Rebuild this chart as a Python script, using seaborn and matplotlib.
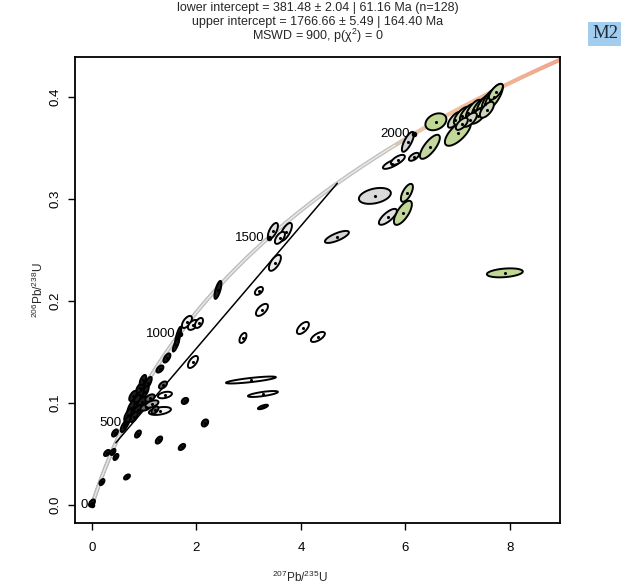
import numpy as np
import pandas as pd
import matplotlib
matplotlib.use("Agg")
import matplotlib.pyplot as plt
import seaborn as sns
from matplotlib.patches import Polygon, Rectangle
from matplotlib.collections import PatchCollection, LineCollection
from matplotlib.colors import LinearSegmentedColormap, to_rgb

sns.set_theme(style="white")
plt.rcParams["font.family"] = ["Liberation Sans", "DejaVu Sans"]
plt.rcParams["mathtext.fontset"] = "custom"
plt.rcParams["mathtext.rm"] = "Liberation Sans"
plt.rcParams["mathtext.it"] = "Liberation Sans:italic"

# decay constants (1/Myr)
LAMBDA_235 = 9.8485e-4
LAMBDA_238 = 1.55125e-4

# analyses: ratios, error half-widths, error correlation, fill level
pb207_u235 = [
    6.584, 7.005, 6.469, 6.163, 6.048, 5.742, 5.856, 5.416, 6.029, 5.952, 5.665, 4.689, 7.904,
    6.947, 7.081, 7.196, 7.311, 7.426, 7.522, 7.617, 7.694, 7.388, 7.234, 7.560, 7.081, 7.732,
    3.464, 3.713, 3.598, 3.502, 2.411, 3.196, 3.254, 4.038, 4.325, 2.890,
    1.818, 1.933, 2.048, 1.646, 1.608, 1.933, 1.435, 1.301, 1.359, 3.043, 3.273, 3.273, 1.397,
    1.301, 1.780, 2.163,
    1.072, 1.014, 0.919, 0.842, 0.957, 1.110, 0.746, 0.880, 1.033, 0.689, 0.804, 0.670, 1.148,
    0.919, 0.976, 0.785, 1.206, 0.612,
    0.880, 1.282, 1.722, 0.440, 0.287, 0.402, 0.459, 0.670, 0.191, 0.000,
]
pb206_u238 = [
    0.3755, 0.3647, 0.3510, 0.3412, 0.3559, 0.3343, 0.3382, 0.3029, 0.3059, 0.2863, 0.2824, 0.2627, 0.2275,
    0.3775, 0.3814, 0.3843, 0.3873, 0.3892, 0.3931, 0.3971, 0.4000, 0.3814, 0.3775, 0.3873, 0.3735, 0.4049,
    0.2686, 0.2676, 0.2618, 0.2373, 0.2108, 0.2098, 0.1912, 0.1735, 0.1647, 0.1637,
    0.1794, 0.1765, 0.1784, 0.1647, 0.1569, 0.1402, 0.1441, 0.1333, 0.1176, 0.1225, 0.1088, 0.0961, 0.1078,
    0.0922, 0.1020, 0.0804,
    0.1196, 0.1108, 0.1078, 0.1010, 0.1010, 0.1049, 0.0951, 0.0931, 0.0961, 0.0882, 0.0863, 0.0814, 0.0990,
    0.1147, 0.1225, 0.1069, 0.0931, 0.0765,
    0.0696, 0.0637, 0.0569, 0.0706, 0.0510, 0.0520, 0.0471, 0.0275, 0.0225, 0.0020,
]
err_207_235 = [
    0.201, 0.249, 0.191, 0.096, 0.115, 0.172, 0.134, 0.306, 0.115, 0.172, 0.172, 0.230, 0.344,
    0.134, 0.153, 0.153, 0.153, 0.153, 0.153, 0.153, 0.172, 0.153, 0.134, 0.134, 0.115, 0.134,
    0.096, 0.115, 0.096, 0.115, 0.067, 0.077, 0.115, 0.115, 0.134, 0.067,
    0.096, 0.096, 0.077, 0.062, 0.062, 0.096, 0.067, 0.067, 0.077, 0.478, 0.287, 0.096, 0.134,
    0.211, 0.062, 0.062,
    0.072, 0.072, 0.072, 0.090, 0.090, 0.090, 0.072, 0.090, 0.105, 0.072, 0.072, 0.062, 0.125,
    0.072, 0.062, 0.072, 0.067, 0.062,
    0.057, 0.062, 0.062, 0.057, 0.057, 0.048, 0.048, 0.057, 0.048, 0.057,
]
err_206_238 = [
    0.0083, 0.0127, 0.0118, 0.0039, 0.0098, 0.0049, 0.0049, 0.0078, 0.0088, 0.0118, 0.0078, 0.0059, 0.0044,
    0.0078, 0.0088, 0.0088, 0.0098, 0.0098, 0.0098, 0.0108, 0.0127, 0.0078, 0.0069, 0.0078, 0.0059, 0.0078,
    0.0078, 0.0088, 0.0059, 0.0078, 0.0088, 0.0039, 0.0059, 0.0059, 0.0049, 0.0049,
    0.0059, 0.0049, 0.0049, 0.0100, 0.0065, 0.0059, 0.0045, 0.0035, 0.0035, 0.0034, 0.0029, 0.0022, 0.0032,
    0.0039, 0.0030, 0.0035,
    0.0060, 0.0060, 0.0070, 0.0070, 0.0050, 0.0036, 0.0070, 0.0050, 0.0036, 0.0060, 0.0050, 0.0060, 0.0036,
    0.0050, 0.0050, 0.0050, 0.0036, 0.0050,
    0.0035, 0.0035, 0.0030, 0.0035, 0.0030, 0.0030, 0.0030, 0.0025, 0.0030, 0.0035,
]
err_rho = [
    0.30, 0.70, 0.75, 0.60, 0.75, 0.75, 0.65, 0.35, 0.65, 0.70, 0.75, 0.75, 0.30,
    0.70, 0.70, 0.70, 0.70, 0.70, 0.70, 0.70, 0.75, 0.65, 0.65, 0.65, 0.65, 0.70,
    0.65, 0.70, 0.60, 0.65, 0.70, 0.50, 0.60, 0.60, 0.65, 0.50,
    0.60, 0.50, 0.50, 0.80, 0.80, 0.60, 0.60, 0.50, 0.50, 0.80, 0.70, 0.70, 0.40,
    0.40, 0.30, 0.30,
    0.70, 0.70, 0.70, 0.70, 0.60, 0.50, 0.70, 0.60, 0.50, 0.70, 0.60, 0.70, 0.50,
    0.60, 0.60, 0.60, 0.50, 0.60,
    0.50, 0.50, 0.50, 0.50, 0.50, 0.50, 0.50, 0.50, 0.50, 0.50,
]
fill_level = [
    1.00, 0.95, 0.90, 0.60, 0.50, 0.30, 0.30, 0.45, 0.85, 0.95, 0.40, 0.50, 1.00,
    0.70, 0.80, 0.75, 0.85, 0.90, 0.80, 0.90, 0.95, 0.85, 0.60, 0.70, 0.70, 0.85,
    0.40, 0.35, 0.30, 0.30, 0.00, 0.20, 0.20, 0.20, 0.20, 0.20,
    0.30, 0.30, 0.30, 0.00, 0.00, 0.20, 0.00, 0.00, 0.05, 0.20, 0.20, 0.00, 0.20,
    0.25, 0.00, 0.00,
    0.00, 0.00, 0.00, 0.00, 0.00, 0.05, 0.00, 0.00, 0.05, 0.00, 0.00, 0.00, 0.10,
    0.00, 0.00, 0.00, 0.05, 0.00,
    0.00, 0.00, 0.00, 0.00, 0.00, 0.00, 0.00, 0.00, 0.00, 0.00,
]

concordia_ages = [0, 500, 1000, 1500, 2000]
intercept_ages = [381.48, 1766.66]
title_lines = [
    "lower intercept = 381.48 ± 2.04 | 61.16 Ma (n=128)",
    "upper intercept = 1766.66 ± 5.49 | 164.40 Ma",
    "MSWD = 900, p(χ$^{2}$) = 0",
]
x_ticks = [0, 2, 4, 6, 8]
y_ticks = [0.0, 0.1, 0.2, 0.3, 0.4]


def concordia_ratios(t):
    t = np.asarray(t, dtype=float)
    return np.exp(LAMBDA_235 * t) - 1.0, np.exp(LAMBDA_238 * t) - 1.0


def error_ellipse(x, y, sx, sy, rho, n=60):
    cov = np.array([[sx * sx, rho * sx * sy], [rho * sx * sy, sy * sy]])
    chol = np.linalg.cholesky(cov)
    a = np.linspace(0, 2 * np.pi, n)
    circle = np.vstack([np.cos(a), np.sin(a)])
    pts = chol @ circle
    return np.column_stack([x + pts[0], y + pts[1]])


W, H = 621, 586
fig = plt.figure(figsize=(W / 100, H / 100), dpi=100)
fig.patch.set_facecolor("white")
ax = fig.add_axes([75 / W, 1 - 523 / H, 485 / W, 466 / H])
ax.set_facecolor("white")

# concordia curve, shaded by age: grey band turning peach then salmon
t_curve = np.linspace(0, 2450, 800)
cx, cy = concordia_ratios(t_curve)
stops_t = [0, 1900, 2050, 2450]
stops_c = [to_rgb("#bcbcbc"), to_rgb("#c4c4c4"), to_rgb("#f2c8a2"), to_rgb("#ec9a86")]
seg_t = 0.5 * (t_curve[:-1] + t_curve[1:])
seg_cols = np.column_stack([np.interp(seg_t, stops_t, [c[i] for c in stops_c]) for i in range(3)])
segs = np.stack([np.column_stack([cx[:-1], cy[:-1]]), np.column_stack([cx[1:], cy[1:]])], axis=1)
ax.add_collection(LineCollection(segs, colors=seg_cols, linewidths=2.8, zorder=1, capstyle="round"))
inner = t_curve < 1950
ax.plot(cx[inner], cy[inner], color="#ececec", linewidth=0.9, zorder=1.1)

# discordia between the two intercepts
ix, iy = concordia_ratios(intercept_ages)
sns.lineplot(x=ix, y=iy, color="black", linewidth=1.1, ax=ax, zorder=2, sort=False)

# error ellipses: the smallest (youngest) ones are solid dark, larger ones grey to green
cmap = LinearSegmentedColormap.from_list(
    "fill", [(0.0, "#1e1e1e"), (0.15, "#ffffff"), (0.5, "#d4d4d4"), (1.0, "#c0d893")])
patches = [
    Polygon(error_ellipse(x, y, sx, sy, r), closed=True)
    for x, y, sx, sy, r in zip(pb207_u235, pb206_u238, err_207_235, err_206_238, err_rho)
]
pc = PatchCollection(patches, facecolors=cmap(np.array(fill_level)), edgecolors="black",
                     linewidths=1.4, zorder=3)
ax.add_collection(pc)

df = pd.DataFrame({"x": pb207_u235, "y": pb206_u238})
sns.scatterplot(data=df, x="x", y="y", s=5, color="black", linewidth=0, ax=ax, zorder=4, legend=False)

# age ticks on the concordia
ax_, ay_ = concordia_ratios(concordia_ages)
sns.scatterplot(x=ax_, y=ay_, s=16, color="black", linewidth=0, ax=ax, zorder=5, legend=False)
for t, xa, ya in zip(concordia_ages, ax_, ay_):
    ax.annotate(str(t), (xa, ya), xytext=(-3, 0), textcoords="offset points",
                ha="right", va="center", fontsize=9.5, color="black", zorder=6)

ax.set_xlim(-0.325, 8.96)
ax.set_ylim(-0.0176, 0.439)
ax.set_xticks(x_ticks)
ax.set_xticklabels([str(v) for v in x_ticks])
ax.set_yticks(y_ticks)
ax.set_yticklabels([f"{v:.1f}" for v in y_ticks], rotation=90, va="center")
ax.set_xlabel("")
ax.set_ylabel("")
ax.grid(False)
for s in ax.spines.values():
    s.set_visible(True)
    s.set_color("black")
    s.set_linewidth(1.3)
ax.tick_params(axis="both", direction="out", length=5, width=1.0, color="black",
               labelsize=9.5, labelcolor="black")
ax.tick_params(axis="x", pad=9, bottom=True)
ax.tick_params(axis="y", pad=5, left=True)

fig.text(300 / W, 1 - 577 / H, r"$^{207}$Pb/$^{235}$U", ha="center", va="center", fontsize=8.5)
fig.text(38 / W, 1 - 290 / H, r"$^{206}$Pb/$^{238}$U", ha="center", va="center", fontsize=8.5,
         rotation=90)

for i, line in enumerate(title_lines):
    fig.text(317.5 / W, 1 - (8 + 14 * i) / H, line, ha="center", va="center", fontsize=9)

# panel tag
fig.patches.append(Rectangle((588 / W, 1 - 46 / H), 40 / W, 24 / H, transform=fig.transFigure,
                             facecolor="#a3cdef", edgecolor="none", zorder=0))
fig.text(592 / W, 1 - 34 / H, "M2", ha="left", va="center", fontsize=13.5,
         family="Liberation Serif", color="#1d2b3a")

fig.savefig("out.png", dpi=100, facecolor="white")
